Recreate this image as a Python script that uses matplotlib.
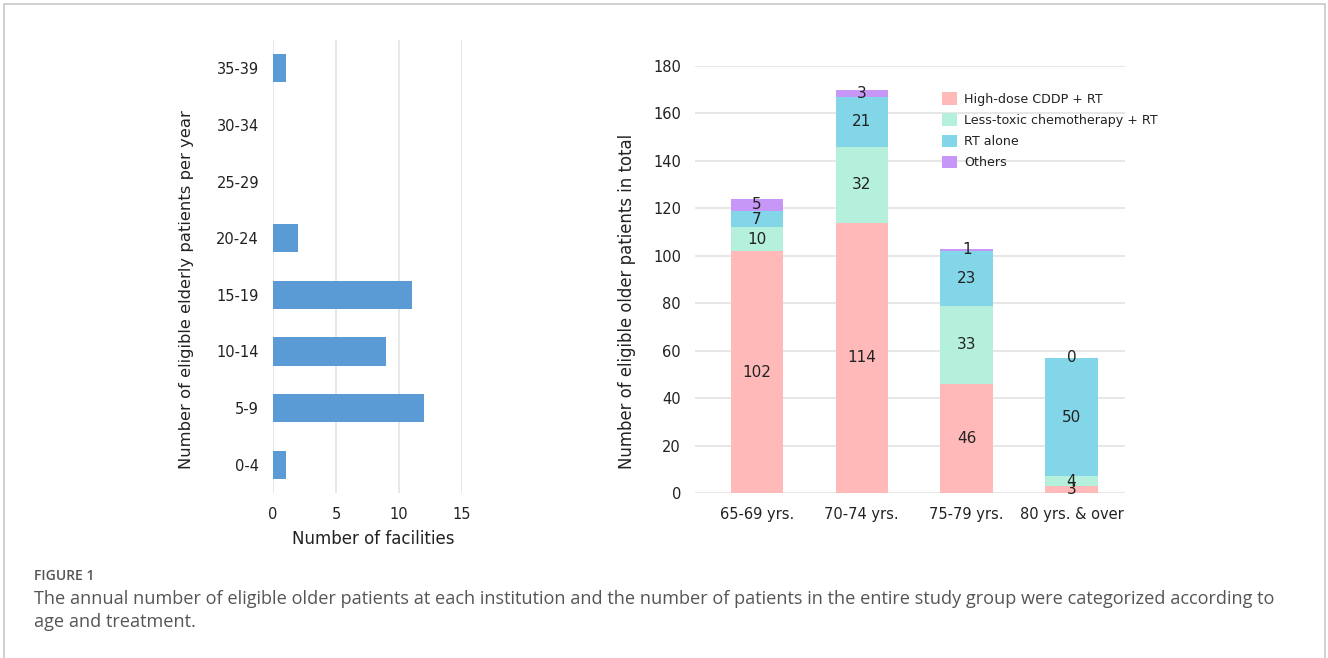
import matplotlib.pyplot as plt
import matplotlib.patches as mpatches
import numpy as np

# left panel: facilities by annual number of eligible elderly patients
ranges = ['0-4', '5-9', '10-14', '15-19', '20-24', '25-29', '30-34', '35-39']
facilities = [1, 12, 9, 11, 2, 0, 0, 1]

# right panel: patients by age group and treatment
age_groups = ['65-69 yrs.', '70-74 yrs.', '75-79 yrs.', '80 yrs. & over']
high_dose = [102, 114, 46, 3]
less_toxic = [10, 32, 33, 4]
rt_alone = [7, 21, 23, 50]
others = [5, 3, 1, 0]

series = [('High-dose CDDP + RT', high_dose, '#FFB9B9'),
          ('Less-toxic chemotherapy + RT', less_toxic, '#B4F0DC'),
          ('RT alone', rt_alone, '#83D5E8'),
          ('Others', others, '#C697F7')]

plt.rcParams['font.family'] = 'DejaVu Sans'
txt = '#222222'
grid = '#E3E3E3'

fig = plt.figure(figsize=(13.28, 6.58), dpi=100)

# frame around the figure
fig.patches.append(mpatches.Rectangle((4 / 1328, -0.01), 1321 / 1328, 1 - 4 / 658 + 0.01,
                                      transform=fig.transFigure, fill=False,
                                      edgecolor='#C8C8C8', linewidth=1.2))

ax1 = fig.add_axes([273 / 1328, 1 - 493 / 658, 189 / 1328, 453 / 658])
y = np.arange(len(ranges))
ax1.barh(y, facilities, height=0.5, color='#5B9BD5', zorder=3)
ax1.set_xlim(0, 15)
ax1.set_ylim(-0.5, len(ranges) - 0.5)
ax1.set_xticks([0, 5, 10, 15])
ax1.set_yticks(y)
ax1.set_yticklabels(ranges)
ax1.grid(axis='x', color=grid, linewidth=1.2, zorder=0)
for s in ax1.spines.values():
    s.set_visible(False)
ax1.tick_params(length=0, labelsize=10.5, colors=txt, pad=10)
ax1.set_xlabel('Number of facilities', fontsize=12, color=txt, labelpad=6)
ax1.xaxis.label.set_x(0.532)
ax1.set_ylabel('Number of eligible elderly patients per year', fontsize=11.8, color=txt, labelpad=16)
ax1.yaxis.label.set_y(0.45)

ax2 = fig.add_axes([695 / 1328, 1 - 493 / 658, 430 / 1328, 427 / 658])
x = np.arange(len(age_groups))
bottom = np.zeros(len(age_groups))
for name, vals, col in series:
    vals = np.array(vals, dtype=float)
    ax2.bar(x, vals, width=0.5, bottom=bottom, color=col, label=name, zorder=3)
    for xi, v, b0 in zip(x, vals, bottom):
        ax2.text(xi, b0 + v / 2, f'{int(v)}', ha='center', va='center',
                 fontsize=11, color=txt, zorder=4)
    bottom += vals
ax2.set_xlim(-0.59, 3.51)
ax2.set_ylim(0, 180)
ax2.set_yticks(range(0, 181, 20))
ax2.set_xticks(x)
ax2.set_xticklabels(age_groups)
ax2.grid(axis='y', color=grid, linewidth=1.2, zorder=0)
for s in ax2.spines.values():
    s.set_visible(False)
ax2.tick_params(length=0, labelsize=10.5, colors=txt, pad=10)
ax2.set_ylabel('Number of eligible older patients in total', fontsize=11.9, color=txt, labelpad=12)
ax2.yaxis.label.set_y(0.448)
ax2.legend(loc='upper left', bbox_to_anchor=(0.548, 0.965), frameon=False, fontsize=9.1,
           handlelength=1.15, handleheight=1.15, handletextpad=0.6, labelspacing=0.6,
           labelcolor=txt)

fig.text(34 / 1328, 1 - 576 / 658, 'FIGURE 1', fontsize=10, color='#555555',
         family='Open Sans', fontstretch='condensed', va='center', fontweight='semibold')
fig.text(34 / 1328, 1 - 599 / 658,
         'The annual number of eligible older patients at each institution and the number of '
         'patients in the entire study group were categorized according to',
         fontsize=13.1, color='#555555', family='Open Sans', va='center')
fig.text(34 / 1328, 1 - 622 / 658, 'age and treatment.',
         fontsize=13.1, color='#555555', family='Open Sans', va='center')

fig.savefig('out.png', dpi=100)
